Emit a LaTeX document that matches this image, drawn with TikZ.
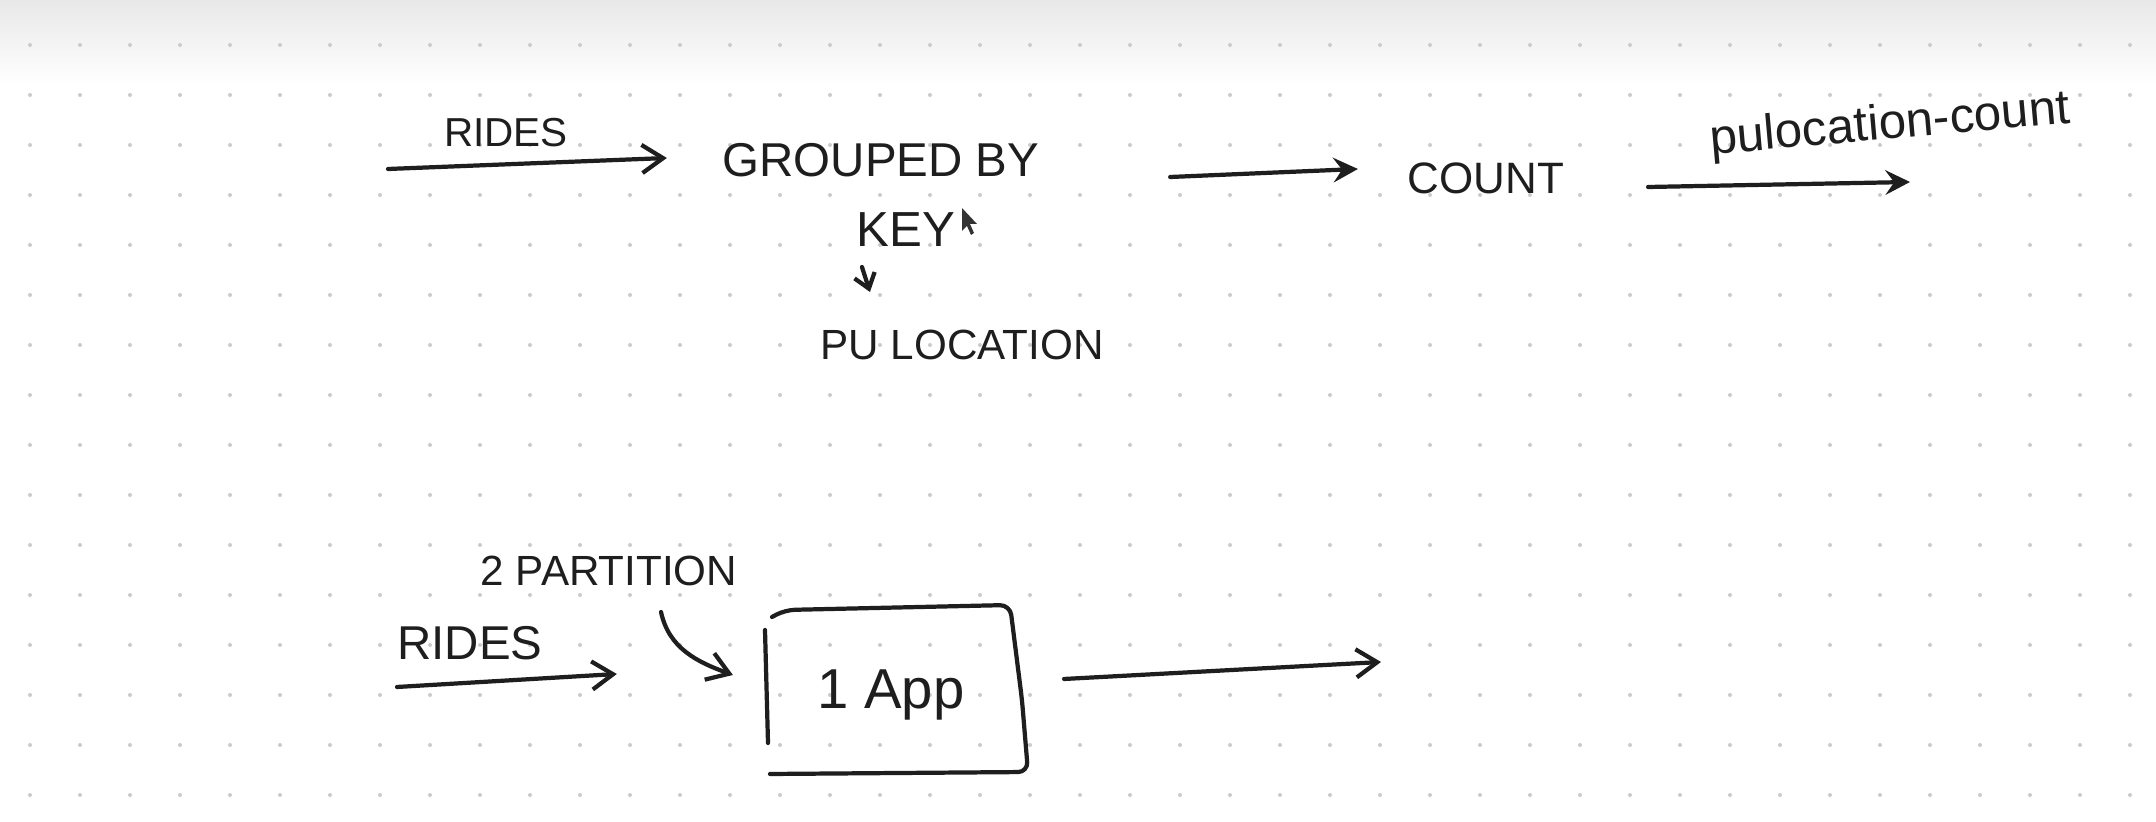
\documentclass[tikz,border=0pt]{standalone}
\usepackage{fontspec}
\setmainfont{Liberation Sans}
\usetikzlibrary{arrows.meta}
\definecolor{ink}{HTML}{1E1E1E}
\definecolor{dotc}{HTML}{CBCBCB}
\begin{document}
\begin{tikzpicture}[x=0.01cm,y=-0.01cm,
  pen/.style={draw=ink, line width=1.2pt, line cap=round, line join=round},
  arr/.style={pen, -{Straight Barb[length=6pt,width=8pt]}},
  arrf/.style={pen, -{Stealth[length=7pt,width=7pt,inset=2.5pt]}},
  lbl/.style={inner sep=0pt, text=ink}]
\useasboundingbox (0,0) rectangle (2156,822);
\fill[white] (0,0) rectangle (2156,822);
\shade[top color=black!9, bottom color=white] (0,0) rectangle (2156,85);
\foreach \i in {0,...,42}{
  \foreach \j in {0,...,15}{
    \fill[dotc] (30+50*\i,45+50*\j) circle[radius=0.02cm];
  }
}
% ---- top row ----
\node[lbl, font=\fontsize{11.5}{13}\selectfont] (rides1) at (506,133) {RIDES};
\node[lbl, font=\fontsize{13.5}{15}\selectfont] (grouped) at (881,160) {GROUPED BY};
\node[lbl, font=\fontsize{14}{16}\selectfont] (key) at (906,230) {KEY};
\node[lbl, font=\fontsize{12}{14}\selectfont] (pu) at (962,345) {PU LOCATION};
\node[lbl, font=\fontsize{12.5}{14}\selectfont] (count) at (1486,178) {COUNT};
\node[lbl, rotate=5, font=\fontsize{14}{16}\selectfont] (pucount) at (1890,126) {pulocation-count};
\coordinate (r1a) at (388,169);
\coordinate (o1) at (1910,182);
\draw[arr] (r1a) -- ([xshift=-2.14cm,yshift=0.02cm]grouped.center);
\draw[arrf] ([xshift=2.89cm,yshift=-0.17cm]grouped.center) -- ([xshift=-1.28cm,yshift=0.09cm]count.center);
\draw[arrf] ([xshift=1.62cm,yshift=-0.09cm]count.center) -- (o1);
\draw[pen, -{Straight Barb[length=4pt,width=6pt]}] ([xshift=-0.44cm,yshift=-0.37cm]key.center) -- ([xshift=-0.92cm,yshift=0.53cm]pu.center);
% mouse pointer
\fill[black!80] (962,208) -- (962,231) -- (967,226) -- (971,235) -- (974,233) -- (970,224) -- (977,224) -- cycle;
% ---- bottom row ----
\node[lbl, font=\fontsize{12}{14}\selectfont] (partition) at (609,571) {2 PARTITION};
\node[lbl, font=\fontsize{13.5}{15}\selectfont] (rides2) at (470,643) {RIDES};
\node[lbl, font=\fontsize{16}{18}\selectfont] (app) at (891,695) {1 App};
\draw[pen, rounded corners=0.1cm] (772,617) -- (785,610) -- (1010,605) -- (1022,700) -- (1028,772) -- (770,774);
\draw[pen] (765,630) -- (768,743);
\coordinate (r2a) at (397,687);
\coordinate (o2) at (1381,662);
\draw[arr] (r2a) -- ([xshift=-2.74cm,yshift=0.21cm]app.center);
\draw[arr] ([xshift=0.52cm,yshift=-0.41cm]partition.center) to[out=-78,in=160] ([xshift=-1.58cm,yshift=0.2cm]app.center);
\draw[arr] ([xshift=1.73cm,yshift=0.16cm]app.center) -- (o2);
\end{tikzpicture}
\end{document}
